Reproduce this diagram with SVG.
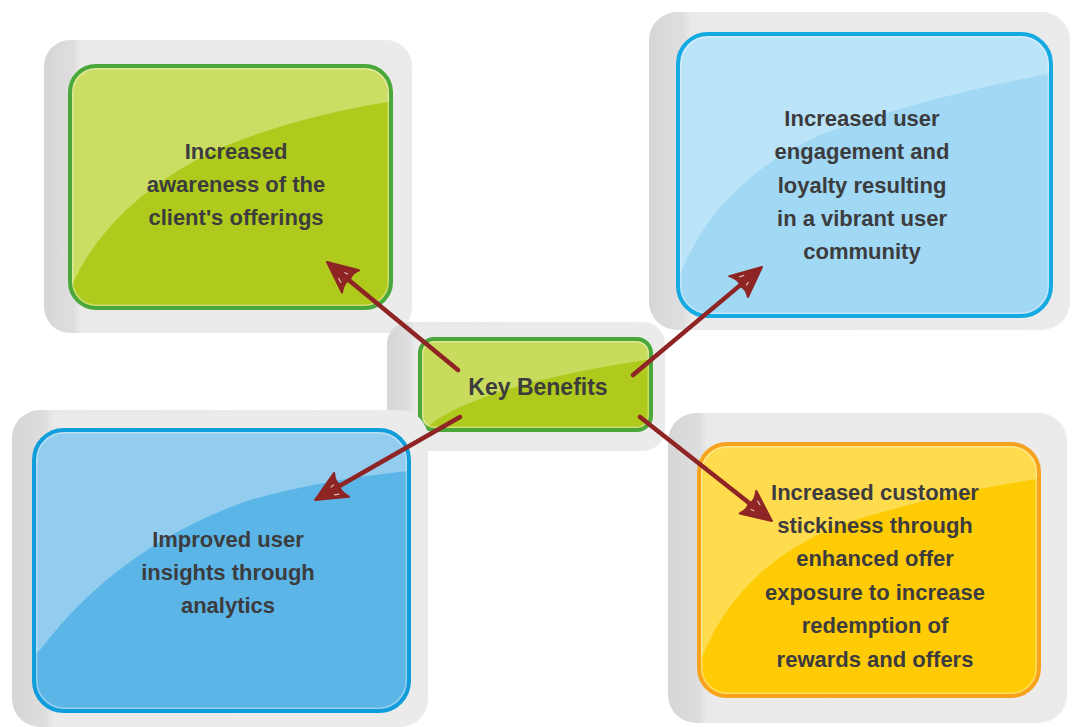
<svg xmlns="http://www.w3.org/2000/svg" width="1072" height="727" viewBox="0 0 1072 727">
<defs>
<style>
.back{fill:url(#gb)}
.txt{font-family:"Liberation Sans",Arial,sans-serif;font-weight:bold;font-size:22px;fill:#3C3C3E;text-anchor:middle}
.inner{fill:none;stroke:#ffffff;stroke-opacity:0.35;stroke-width:2}
.conn{stroke:#8E2424;stroke-width:4.5;fill:none;stroke-linecap:round;marker-end:url(#head)}
</style>
<linearGradient id="gb" x1="0" y1="0" x2="1" y2="0">
<stop offset="0" stop-color="#D6D6D6"/>
<stop offset="0.08" stop-color="#DEDEDE"/>
<stop offset="0.1" stop-color="#EAEAEA"/>
<stop offset="1" stop-color="#EBEBEB"/>
</linearGradient>
<marker id="head" viewBox="-34 -17 46 34" refX="-10" refY="0" markerWidth="46" markerHeight="34" markerUnits="userSpaceOnUse" orient="auto">
<path d="M0,0 L-31,-14 Q-25,-4 -29,1 Q-26,6 -30,14 Z" fill="#8E2424" stroke="#8E2424" stroke-width="2" stroke-linejoin="round"/>
<path d="M-24,-7 L-19,-5 M-24,4 L-20,3" stroke="#ffffff" stroke-opacity="0.7" stroke-width="1.2"/>
</marker>
<clipPath id="c1"><rect x="70" y="66" width="321" height="242" rx="26"/></clipPath>
<clipPath id="c2"><rect x="678" y="34" width="373" height="282" rx="30"/></clipPath>
<clipPath id="c3"><rect x="420" y="339" width="231" height="91" rx="14"/></clipPath>
<clipPath id="c4"><rect x="34" y="430" width="375" height="281" rx="30"/></clipPath>
<clipPath id="c5"><rect x="699" y="444" width="340" height="252" rx="28"/></clipPath>
</defs>

<g id="node-awareness">
<rect class="back" x="44" y="40" width="368" height="293" rx="26"/>
<g clip-path="url(#c1)">
<rect x="70" y="66" width="321" height="242" fill="#AFCA1C"/>
<path d="M60,60 L400,60 L400,100 Q300,115 220,148 Q110,200 72,285 L60,300 Z" fill="#CBDD63"/>
</g>
<rect x="72.5" y="68.5" width="316" height="237" rx="24" class="inner"/>
<rect x="70" y="66" width="321" height="242" rx="26" fill="none" stroke="#4AA83A" stroke-width="4"/>
<text class="txt" x="236" y="159">Increased</text>
<text class="txt" x="236" y="192">awareness of the</text>
<text class="txt" x="236" y="225">client's offerings</text>
</g>

<g id="node-engagement">
<rect class="back" x="649" y="12" width="421" height="318" rx="28"/>
<g clip-path="url(#c2)">
<rect x="678" y="34" width="373" height="282" fill="#A1D8F4"/>
<path d="M670,25 L1060,25 L1060,72 Q930,95 820,135 Q720,180 683,268 L670,290 Z" fill="#BCE4F8"/>
</g>
<rect x="680.5" y="36.5" width="368" height="277" rx="28" class="inner"/>
<rect x="678" y="34" width="373" height="282" rx="30" fill="none" stroke="#15AAE2" stroke-width="4"/>
<text class="txt" x="862" y="126">Increased user</text>
<text class="txt" x="862" y="159">engagement and</text>
<text class="txt" x="862" y="193">loyalty resulting</text>
<text class="txt" x="862" y="226">in a vibrant user</text>
<text class="txt" x="862" y="259">community</text>
</g>

<g id="node-key">
<rect class="back" x="387" y="322" width="278" height="129" rx="22"/>
<g clip-path="url(#c3)">
<rect x="420" y="339" width="231" height="91" fill="#AFCA1C"/>
<path d="M410,330 L660,330 L660,358 Q560,372 500,392 Q450,408 430,425 L410,430 Z" fill="#C8DB5C"/>
</g>
<rect x="422.5" y="341.5" width="226" height="86" rx="12" class="inner"/>
<rect x="420" y="339" width="231" height="91" rx="14" fill="none" stroke="#4AA83A" stroke-width="4"/>
<text class="txt" x="538" y="395" style="font-size:23px">Key Benefits</text>
</g>

<g id="node-insights">
<rect class="back" x="12" y="410" width="416" height="317" rx="28"/>
<g clip-path="url(#c4)">
<rect x="34" y="430" width="375" height="281" fill="#5BB5E6"/>
<path d="M25,420 L420,420 L420,470 Q330,478 250,500 Q120,545 40,650 L25,660 Z" fill="#92CDF0"/>
</g>
<rect x="36.5" y="432.5" width="370" height="276" rx="28" class="inner"/>
<rect x="34" y="430" width="375" height="281" rx="30" fill="none" stroke="#109DDB" stroke-width="4"/>
<text class="txt" x="228" y="547">Improved user</text>
<text class="txt" x="228" y="580">insights through</text>
<text class="txt" x="228" y="613">analytics</text>
</g>

<g id="node-stickiness">
<rect class="back" x="668" y="413" width="399" height="310" rx="28"/>
<g clip-path="url(#c5)">
<rect x="699" y="444" width="340" height="252" fill="#FFCB05"/>
<path d="M690,435 L1050,435 L1050,477 Q930,495 840,525 Q740,565 703,655 L690,670 Z" fill="#FFDB4E"/>
</g>
<rect x="701.5" y="446.5" width="335" height="247" rx="26" class="inner"/>
<rect x="699" y="444" width="340" height="252" rx="28" fill="none" stroke="#F6A21C" stroke-width="4"/>
<text class="txt" x="875" y="500">Increased customer</text>
<text class="txt" x="875" y="533">stickiness through</text>
<text class="txt" x="875" y="566">enhanced offer</text>
<text class="txt" x="875" y="600">exposure to increase</text>
<text class="txt" x="875" y="633">redemption of</text>
<text class="txt" x="875" y="667">rewards and offers</text>
</g>

<g id="connectors">
<line class="conn" x1="458" y1="370" x2="334.7" y2="268.4"/>
<line class="conn" x1="633" y1="375" x2="754.3" y2="273.4"/>
<line class="conn" x1="460" y1="417" x2="323.7" y2="495"/>
<line class="conn" x1="640" y1="417" x2="764.1" y2="514.8"/>
</g>
</svg>
